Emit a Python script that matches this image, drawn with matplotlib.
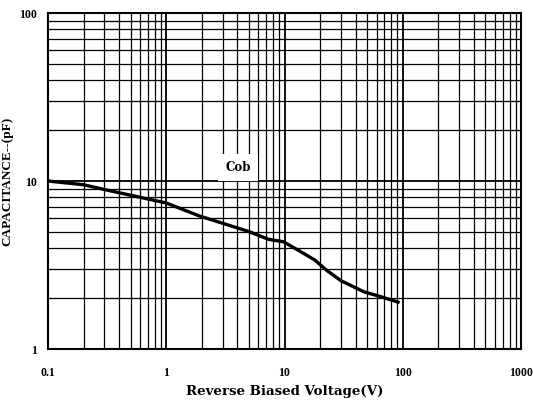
import matplotlib
matplotlib.use("Agg")
import matplotlib.pyplot as plt
from matplotlib.ticker import LogLocator, FixedLocator, NullFormatter

# Data
voltage = [0.1, 0.2, 0.3, 0.6, 1.0, 1.9, 5.0, 7.3, 9.8, 13, 18, 22.6, 30, 47, 65, 94]
cob = [10.0, 9.5, 8.9, 8.0, 7.4, 6.2, 5.0, 4.5, 4.35, 3.88, 3.39, 2.95, 2.55, 2.19, 2.05, 1.89]

x_ticks = [0.1, 1, 10, 100, 1000]
x_ticklabels = ["0.1", "1", "10", "100", "1000"]
y_ticks = [1, 10, 100]
y_ticklabels = ["1", "10", "100"]

serif = ["Liberation Serif", "DejaVu Serif"]
wide_serif = ["DejaVu Serif"]

fig = plt.figure(figsize=(5.34, 4.04), dpi=100)
ax = fig.add_axes([0.0899, 0.1361, 0.8858, 0.8317])

ax.set_xscale("log")
ax.set_yscale("log")
ax.set_xlim(0.1, 1000)
ax.set_ylim(1, 100)

ax.plot(voltage, cob, color="black", lw=2.4, solid_capstyle="butt", zorder=3)

ax.xaxis.set_major_locator(FixedLocator(x_ticks))
ax.yaxis.set_major_locator(FixedLocator(y_ticks))
ax.xaxis.set_minor_locator(LogLocator(base=10, subs=range(2, 10), numticks=20))
ax.yaxis.set_minor_locator(LogLocator(base=10, subs=range(2, 10), numticks=20))
ax.xaxis.set_minor_formatter(NullFormatter())
ax.yaxis.set_minor_formatter(NullFormatter())
ax.set_xticklabels(x_ticklabels, fontfamily=serif, fontweight="bold", fontsize=8.5)
ax.set_yticklabels(y_ticklabels, fontfamily=serif, fontweight="bold", fontsize=8.5)
ax.tick_params(which="both", length=0)
ax.tick_params(axis="x", pad=13)
ax.tick_params(axis="y", pad=8)

ax.grid(which="major", color="black", lw=1.3)
ax.grid(which="minor", color="black", lw=0.9)
ax.set_axisbelow(True)

for s in ax.spines.values():
    s.set_linewidth(1.5)

ax.set_xlabel("Reverse Biased Voltage(V)", fontfamily=wide_serif, fontweight="bold",
              fontsize=9.6, labelpad=4)
ax.set_ylabel("CAPACITANCE--(pF)", fontfamily=serif, fontweight="bold",
              fontsize=9.5, labelpad=4)

ax.text(0.402, 0.539, "Cob", transform=ax.transAxes, ha="center", va="center",
        fontfamily=wide_serif, fontweight="bold", fontsize=8.5,
        bbox=dict(facecolor="white", edgecolor="none", pad=5), zorder=4)

fig.savefig("out.png", dpi=100)
